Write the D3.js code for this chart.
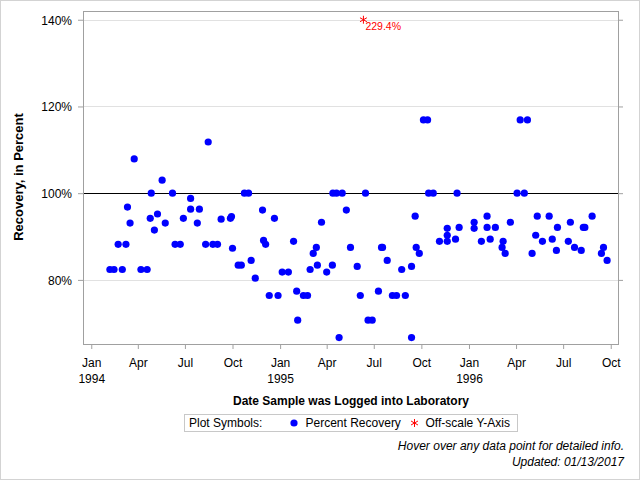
<!DOCTYPE html>
<html>
<head>
<meta charset="utf-8">
<script src="https://d3js.org/d3.v7.min.js"></script>
<style>
  body { margin: 0; background: #fff; }
  text { font-family: "Liberation Sans", Arial, sans-serif; }
</style>
</head>
<body>
<div id="chart"></div>
<script>
// sample log dates and percent recovery
var dates = [
  "1994-02-06", "1994-02-14", "1994-02-22", "1994-03-02", "1994-03-09", "1994-03-12", "1994-03-17", "1994-03-25", "1994-04-07", "1994-04-19",
  "1994-04-25", "1994-04-27", "1994-05-03", "1994-05-09", "1994-05-18", "1994-05-24", "1994-06-07", "1994-06-12", "1994-06-22", "1994-06-28",
  "1994-07-12", "1994-07-12", "1994-07-25", "1994-07-29", "1994-08-10", "1994-08-15", "1994-08-24", "1994-09-02", "1994-09-09", "1994-09-27",
  "1994-09-29", "1994-10-01", "1994-10-12", "1994-10-18", "1994-10-24", "1994-11-01", "1994-11-06", "1994-11-14", "1994-11-28", "1994-11-30",
  "1994-12-04", "1994-12-11", "1994-12-21", "1994-12-28", "1995-01-05", "1995-01-17", "1995-01-27", "1995-02-02", "1995-02-04", "1995-02-15",
  "1995-02-23", "1995-02-28", "1995-03-06", "1995-03-12", "1995-03-14", "1995-03-22", "1995-04-01", "1995-04-12", "1995-04-13", "1995-04-20",
  "1995-04-25", "1995-05-01", "1995-05-09", "1995-05-17", "1995-05-30", "1995-06-05", "1995-06-15", "1995-06-20", "1995-06-28", "1995-07-10",
  "1995-07-16", "1995-07-18", "1995-07-27", "1995-08-06", "1995-08-14", "1995-08-24", "1995-08-31", "1995-09-12", "1995-09-12", "1995-09-19",
  "1995-09-21", "1995-09-27", "1995-10-05", "1995-10-13", "1995-10-15", "1995-10-24", "1995-11-05", "1995-11-20", "1995-11-20", "1995-11-20",
  "1995-12-06", "1995-12-09", "1995-12-13", "1996-01-11", "1996-01-11", "1996-01-25", "1996-02-05", "1996-02-05", "1996-02-11", "1996-02-21",
  "1996-03-05", "1996-03-07", "1996-03-11", "1996-03-21", "1996-04-03", "1996-04-09", "1996-04-17", "1996-04-23", "1996-05-02", "1996-05-09",
  "1996-05-12", "1996-05-22", "1996-06-04", "1996-06-10", "1996-06-18", "1996-06-20", "1996-07-11", "1996-07-15", "1996-07-23", "1996-08-05",
  "1996-08-09", "1996-08-12", "1996-08-26", "1996-09-13", "1996-09-17", "1996-09-24"
];

var recovery = [
  82.4, 82.4, 88.2, 82.4, 88.2, 96.8, 93.1, 107.9, 82.4, 82.4,
  94.2, 100, 91.5, 95.2, 103.0, 93.1, 100, 88.2, 88.2, 94.2,
  98.8, 96.3, 93.1, 96.3, 88.2, 111.8, 88.2, 88.2, 94.0, 94.2,
  94.6, 87.3, 83.4, 83.4, 100, 100, 84.5, 80.4, 96.1, 89.1,
  88.2, 76.4, 94.2, 76.4, 81.8, 81.8, 88.9, 77.4, 70.7, 76.4,
  76.4, 82.4, 86.1, 87.5, 83.4, 93.3, 81.8, 83.4, 100, 100,
  66.7, 100, 96.1, 87.5, 83.1, 76.4, 100, 70.7, 70.7, 77.4,
  87.5, 87.5, 84.5, 76.4, 76.4, 82.4, 76.4, 66.7, 83.1, 94.7,
  87.5, 86.1, 116.9, 116.9, 100, 100, 88.9, 88.9, 90.3, 91.9,
  89.4, 100, 92.1, 93.3, 91.9, 88.9, 94.7, 92.1, 89.4, 92.1,
  87.5, 88.9, 86.1, 93.3, 100, 116.9, 100, 116.9, 86.1, 90.3,
  94.7, 88.9, 94.7, 89.4, 86.8, 92.1, 88.9, 93.3, 87.5, 86.8,
  92.1, 92.1, 94.7, 86.1, 87.5, 84.5
];

// points above the axis range, drawn as a star at the top
var offscaleDates = ["1995-06-11"];
var offscaleValues = [229.4];
var offscaleShownAt = 140;

var yTicks = [80, 100, 120, 140];
var xTicks = [
  "1994-01-01", "1994-04-01", "1994-07-01", "1994-10-01",
  "1995-01-01", "1995-04-01", "1995-07-01", "1995-10-01",
  "1996-01-01", "1996-04-01", "1996-07-01", "1996-10-01"
];

var svgWidth = 640;
var svgHeight = 480;
var frame = { left: 83.5, right: 618.5, top: 11.5, bottom: 344.5 };

var parseDate = d3.timeParse("%Y-%m-%d");
var points = dates.map((d, i) => ({ date: parseDate(d), value: recovery[i] }));
var offscale = offscaleDates.map((d, i) => ({ date: parseDate(d), value: offscaleValues[i] }));

var svg = d3.select("#chart")
  .append("svg")
  .attr("width", svgWidth)
  .attr("height", svgHeight);

// outer border
svg.append("rect")
  .attr("x", 0.5)
  .attr("y", 0.5)
  .attr("width", svgWidth - 1)
  .attr("height", svgHeight - 1)
  .attr("fill", "#fff")
  .attr("stroke", "#d3d3d3");

var xScale = d3.scaleTime()
  .domain([parseDate("1993-12-17"), parseDate("1996-10-16")])
  .range([frame.left, frame.right]);

var yScale = d3.scaleLinear()
  .domain([65.1, 141.9])
  .range([frame.bottom, frame.top]);

// gridlines
svg.append("g")
  .selectAll("line")
  .data(yTicks.filter(d => d !== 100))
  .enter()
  .append("line")
  .attr("x1", frame.left)
  .attr("x2", frame.right)
  .attr("y1", d => Math.round(yScale(d)) + 0.5)
  .attr("y2", d => Math.round(yScale(d)) + 0.5)
  .attr("stroke", "#e1e1e1");

// reference line at 100%
svg.append("line")
  .attr("x1", frame.left)
  .attr("x2", frame.right)
  .attr("y1", Math.round(yScale(100)) + 0.5)
  .attr("y2", Math.round(yScale(100)) + 0.5)
  .attr("stroke", "#000");

var leftAxis = d3.axisLeft(yScale)
  .tickValues(yTicks)
  .tickSize(5)
  .tickPadding(6)
  .tickFormat(d => d + "%");

var rightAxis = d3.axisRight(yScale)
  .tickValues(yTicks)
  .tickSize(5)
  .tickFormat("");

var bottomAxis = d3.axisBottom(xScale)
  .tickValues(xTicks.map(parseDate))
  .tickSize(5)
  .tickFormat("");

var yAxisLeft = svg.append("g")
  .attr("transform", `translate(${frame.left - 0.5},0)`)
  .call(leftAxis);

var yAxisRight = svg.append("g")
  .attr("transform", `translate(${frame.right - 0.5},0)`)
  .call(rightAxis);

var xAxis = svg.append("g")
  .attr("transform", `translate(0,${frame.bottom - 0.5})`)
  .call(bottomAxis);

[yAxisLeft, yAxisRight, xAxis].forEach(function (axis) {
  axis.select(".domain").remove();
  axis.selectAll(".tick line").attr("stroke", "#a0a0a0");
  axis.selectAll("text")
    .attr("font-family", null)
    .attr("font-size", "12px")
    .attr("fill", "#000");
});
yAxisLeft.selectAll("text").attr("dy", "0.36em");

// two line month / year labels
var monthFormat = d3.timeFormat("%b");
xAxis.selectAll(".tick")
  .append("text")
  .attr("text-anchor", "middle")
  .attr("font-size", "12px")
  .attr("fill", "#000")
  .each(function (d) {
    var label = d3.select(this);
    label.append("tspan").attr("x", 0).attr("y", 23).text(monthFormat(d));
    if (d.getMonth() === 0) {
      label.append("tspan").attr("x", 0).attr("y", 38.5).text(d.getFullYear());
    }
  });

// plot frame
svg.append("rect")
  .attr("x", frame.left)
  .attr("y", frame.top)
  .attr("width", frame.right - frame.left)
  .attr("height", frame.bottom - frame.top)
  .attr("fill", "none")
  .attr("stroke", "#a0a0a0");

// data points
svg.append("g")
  .selectAll("circle")
  .data(points)
  .enter()
  .append("circle")
  .attr("cx", d => xScale(d.date))
  .attr("cy", d => yScale(d.value))
  .attr("r", 3.6)
  .attr("fill", "#0000ff");

var star = d3.symbol().type(d3.symbolAsterisk).size(44);

var offGroup = svg.append("g")
  .selectAll("g")
  .data(offscale)
  .enter()
  .append("g")
  .attr("transform", d => `translate(${xScale(d.date)},${yScale(offscaleShownAt)})`);

offGroup.append("path")
  .attr("d", star)
  .attr("fill", "none")
  .attr("stroke", "#ff0000");

offGroup.append("text")
  .attr("x", 2)
  .attr("y", 10)
  .attr("font-size", "10.5px")
  .attr("fill", "#ff0000")
  .text(d => d.value.toFixed(1) + "%");

// axis titles
svg.append("text")
  .attr("x", (frame.left + frame.right) / 2)
  .attr("y", 405)
  .attr("text-anchor", "middle")
  .attr("font-size", "12px")
  .attr("font-weight", "bold")
  .text("Date Sample was Logged into Laboratory");

svg.append("text")
  .attr("transform", `translate(23,${(frame.top + frame.bottom) / 2 - 1}) rotate(-90)`)
  .attr("text-anchor", "middle")
  .attr("font-size", "13px")
  .attr("font-weight", "bold")
  .text("Recovery, in Percent");

// legend
var legend = svg.append("g");

legend.append("rect")
  .attr("x", 184.5)
  .attr("y", 414.5)
  .attr("width", 333)
  .attr("height", 17)
  .attr("fill", "none")
  .attr("stroke", "#c8c8c8");

legend.append("text")
  .attr("x", 189)
  .attr("y", 426.5)
  .attr("font-size", "12px")
  .text("Plot Symbols:");

legend.append("circle")
  .attr("cx", 294)
  .attr("cy", 423)
  .attr("r", 3.6)
  .attr("fill", "#0000ff");

legend.append("text")
  .attr("x", 305.5)
  .attr("y", 426.5)
  .attr("font-size", "12px")
  .text("Percent Recovery");

legend.append("path")
  .attr("transform", "translate(414.5,423)")
  .attr("d", star)
  .attr("fill", "none")
  .attr("stroke", "#ff0000");

legend.append("text")
  .attr("x", 425.5)
  .attr("y", 426.5)
  .attr("font-size", "12px")
  .text("Off-scale Y-Axis");

// footnotes
svg.append("text")
  .attr("x", 624)
  .attr("y", 450)
  .attr("text-anchor", "end")
  .attr("font-size", "12px")
  .attr("font-style", "italic")
  .text("Hover over any data point for detailed info.");

svg.append("text")
  .attr("x", 624)
  .attr("y", 466)
  .attr("text-anchor", "end")
  .attr("font-size", "12px")
  .attr("font-style", "italic")
  .text("Updated: 01/13/2017");
</script>
</body>
</html>
